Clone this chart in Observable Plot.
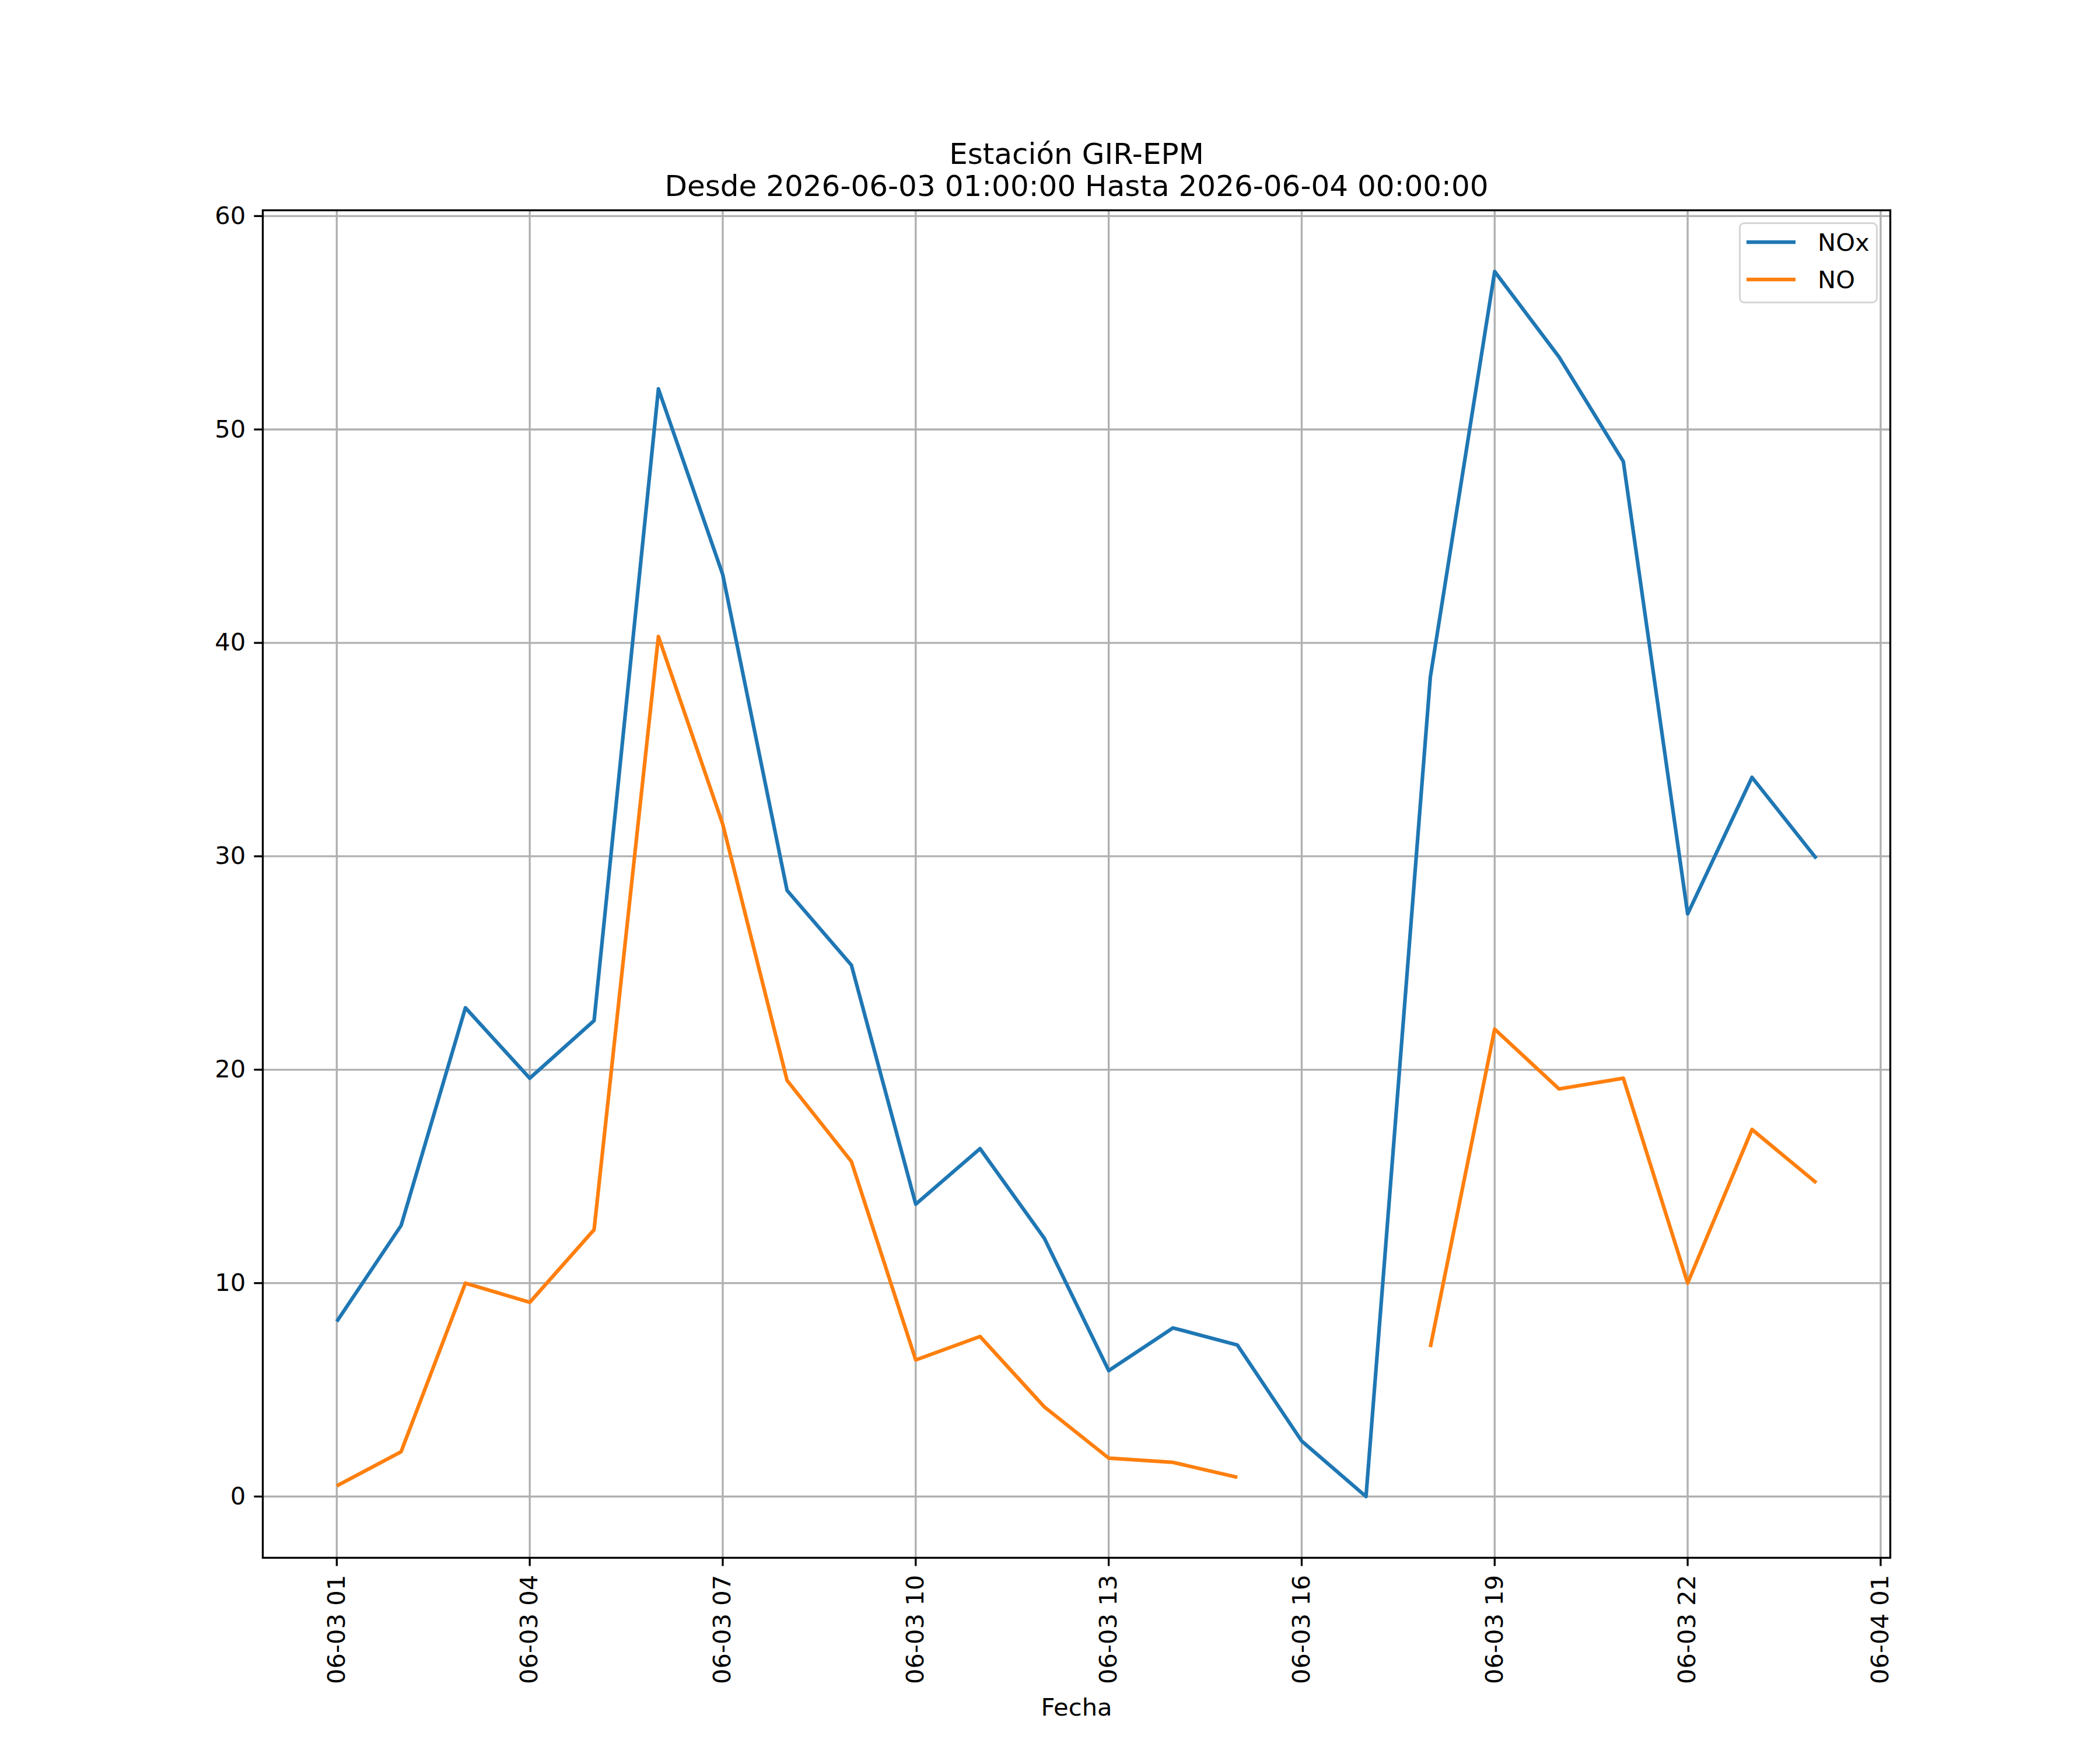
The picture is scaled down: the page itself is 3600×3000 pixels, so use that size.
<!DOCTYPE html>
<html>
<head>
<meta charset="utf-8">
<script src="https://cdn.jsdelivr.net/npm/d3@7"></script>
<script src="https://cdn.jsdelivr.net/npm/@observablehq/plot@0.6"></script>
<style>
  html, body { margin: 0; padding: 0; background: #fff; }
  #wrap { position: relative; width: 3600px; height: 3000px; font-family: "DejaVu Sans", sans-serif; }
  #legend { position: absolute; left: 2981px; top: 381px; width: 238px; height: 139px; box-sizing: border-box;
            border: 3.33px solid #d5d5d5; border-radius: 9px; background: rgba(255,255,255,0.8); }
</style>
</head>
<body>
<div id="wrap"></div>
<script>
// ---- data ----
const hours = [
  "2026-06-03T01:00Z","2026-06-03T02:00Z","2026-06-03T03:00Z","2026-06-03T04:00Z",
  "2026-06-03T05:00Z","2026-06-03T06:00Z","2026-06-03T07:00Z","2026-06-03T08:00Z",
  "2026-06-03T09:00Z","2026-06-03T10:00Z","2026-06-03T11:00Z","2026-06-03T12:00Z",
  "2026-06-03T13:00Z","2026-06-03T14:00Z","2026-06-03T15:00Z","2026-06-03T16:00Z",
  "2026-06-03T17:00Z","2026-06-03T18:00Z","2026-06-03T19:00Z","2026-06-03T20:00Z",
  "2026-06-03T21:00Z","2026-06-03T22:00Z","2026-06-03T23:00Z","2026-06-04T00:00Z"
];
const noxValues = [8.2, 12.7, 22.9, 19.6, 22.3, 51.9, 43.2, 28.4, 24.9, 13.7, 16.3, 12.1,
                   5.9, 7.9, 7.1, 2.6, 0.0, 38.4, 57.4, 53.4, 48.5, 27.3, 33.7, 29.9];
const noValues  = [0.5, 2.1, 10.0, 9.1, 12.5, 40.3, 31.5, 19.5, 15.7, 6.4, 7.5, 4.2,
                   1.8, 1.6, 0.9, null, null, 7.0, 21.9, 19.1, 19.6, 10.0, 17.2, 14.7];
const seriesNames = ["NOx", "NO"];
const seriesColors = ["#1f77b4", "#ff7f0e"];
const yTicks = [0, 10, 20, 30, 40, 50, 60];
const xTickHours = [
  "2026-06-03T01:00Z","2026-06-03T04:00Z","2026-06-03T07:00Z","2026-06-03T10:00Z",
  "2026-06-03T13:00Z","2026-06-03T16:00Z","2026-06-03T19:00Z","2026-06-03T22:00Z",
  "2026-06-04T01:00Z"
];
const titleText = "Estación GIR-EPM\nDesde 2026-06-03 01:00:00 Hasta 2026-06-04 00:00:00";
const xLabelText = "Fecha";

// ---- build ----
const dates = hours.map(h => new Date(h));
const tickDates = xTickHours.map(h => new Date(h));
const rows = [];
dates.forEach((d, i) => {
  rows.push({date: d, value: noxValues[i], series: seriesNames[0]});
});
dates.forEach((d, i) => {
  rows.push({date: d, value: noValues[i], series: seriesNames[1]});
});

const allVals = noxValues.concat(noValues).filter(v => v != null);
const [yMin, yMax] = d3.extent(allVals);
const yPad = (yMax - yMin) * 0.05;
const [t0, t1] = d3.extent(dates);
const tPad = (t1 - t0) * 0.05;

const FS = 41.67;
const LW = 6.25;
const GW = 3.33;

const plot = Plot.plot({
  width: 3600,
  height: 3000,
  marginLeft: 450,
  marginRight: 360,
  marginTop: 360,
  marginBottom: 330,
  style: {fontFamily: "DejaVu Sans", fontSize: FS + "px", color: "black", background: "white"},
  x: {type: "utc", domain: [new Date(+t0 - tPad), new Date(+t1 + tPad)]},
  y: {domain: [yMin - yPad, yMax + yPad]},
  color: {domain: seriesNames, range: seriesColors},
  marks: [
    Plot.gridX(tickDates, {stroke: "#b0b0b0", strokeOpacity: 1, strokeWidth: GW}),
    Plot.gridY(yTicks, {stroke: "#b0b0b0", strokeOpacity: 1, strokeWidth: GW}),
    Plot.line(rows, {x: "date", y: "value", z: "series", stroke: "series",
      strokeWidth: LW, strokeLinejoin: "round", strokeLinecap: "butt"}),
    Plot.frame({stroke: "black", strokeWidth: GW}),
    Plot.axisY({ticks: yTicks, tickSize: 14.6, tickPadding: 14.6, strokeWidth: GW,
      fontSize: FS, label: null, tickFormat: d => String(d)}),
    Plot.axisX({ticks: tickDates, tickSize: 14.6, tickPadding: 14.6, strokeWidth: GW,
      tickRotate: -90, fontSize: FS, label: null, tickFormat: d3.utcFormat("%m-%d %H")}),
    Plot.text([titleText], {frameAnchor: "top", dy: -25, lineAnchor: "bottom",
      textAnchor: "middle", fontSize: 50, lineHeight: 1.1, fill: "black"}),
    Plot.text([xLabelText], {frameAnchor: "bottom", dy: 270, lineAnchor: "bottom",
      textAnchor: "middle", fontSize: FS, fill: "black"})
  ]
});

const wrap = document.getElementById("wrap");
wrap.appendChild(plot);

// legend
const legend = document.createElement("div");
legend.id = "legend";
const ns = "http://www.w3.org/2000/svg";
const lsvg = document.createElementNS(ns, "svg");
lsvg.setAttribute("width", "232");
lsvg.setAttribute("height", "133");
lsvg.style.position = "absolute";
lsvg.style.left = "0px";
lsvg.style.top = "0px";
seriesNames.forEach((name, i) => {
  const y = 31 + i * 64;
  const ln = document.createElementNS(ns, "line");
  ln.setAttribute("x1", 10); ln.setAttribute("x2", 94);
  ln.setAttribute("y1", y); ln.setAttribute("y2", y);
  ln.setAttribute("stroke", seriesColors[i]);
  ln.setAttribute("stroke-width", LW);
  lsvg.appendChild(ln);
  const tx = document.createElementNS(ns, "text");
  tx.setAttribute("x", 132);
  tx.setAttribute("y", y + 15);
  tx.setAttribute("font-family", "DejaVu Sans");
  tx.setAttribute("font-size", FS);
  tx.setAttribute("fill", "black");
  tx.textContent = name;
  lsvg.appendChild(tx);
});
legend.appendChild(lsvg);
wrap.appendChild(legend);
</script>
</body>
</html>
